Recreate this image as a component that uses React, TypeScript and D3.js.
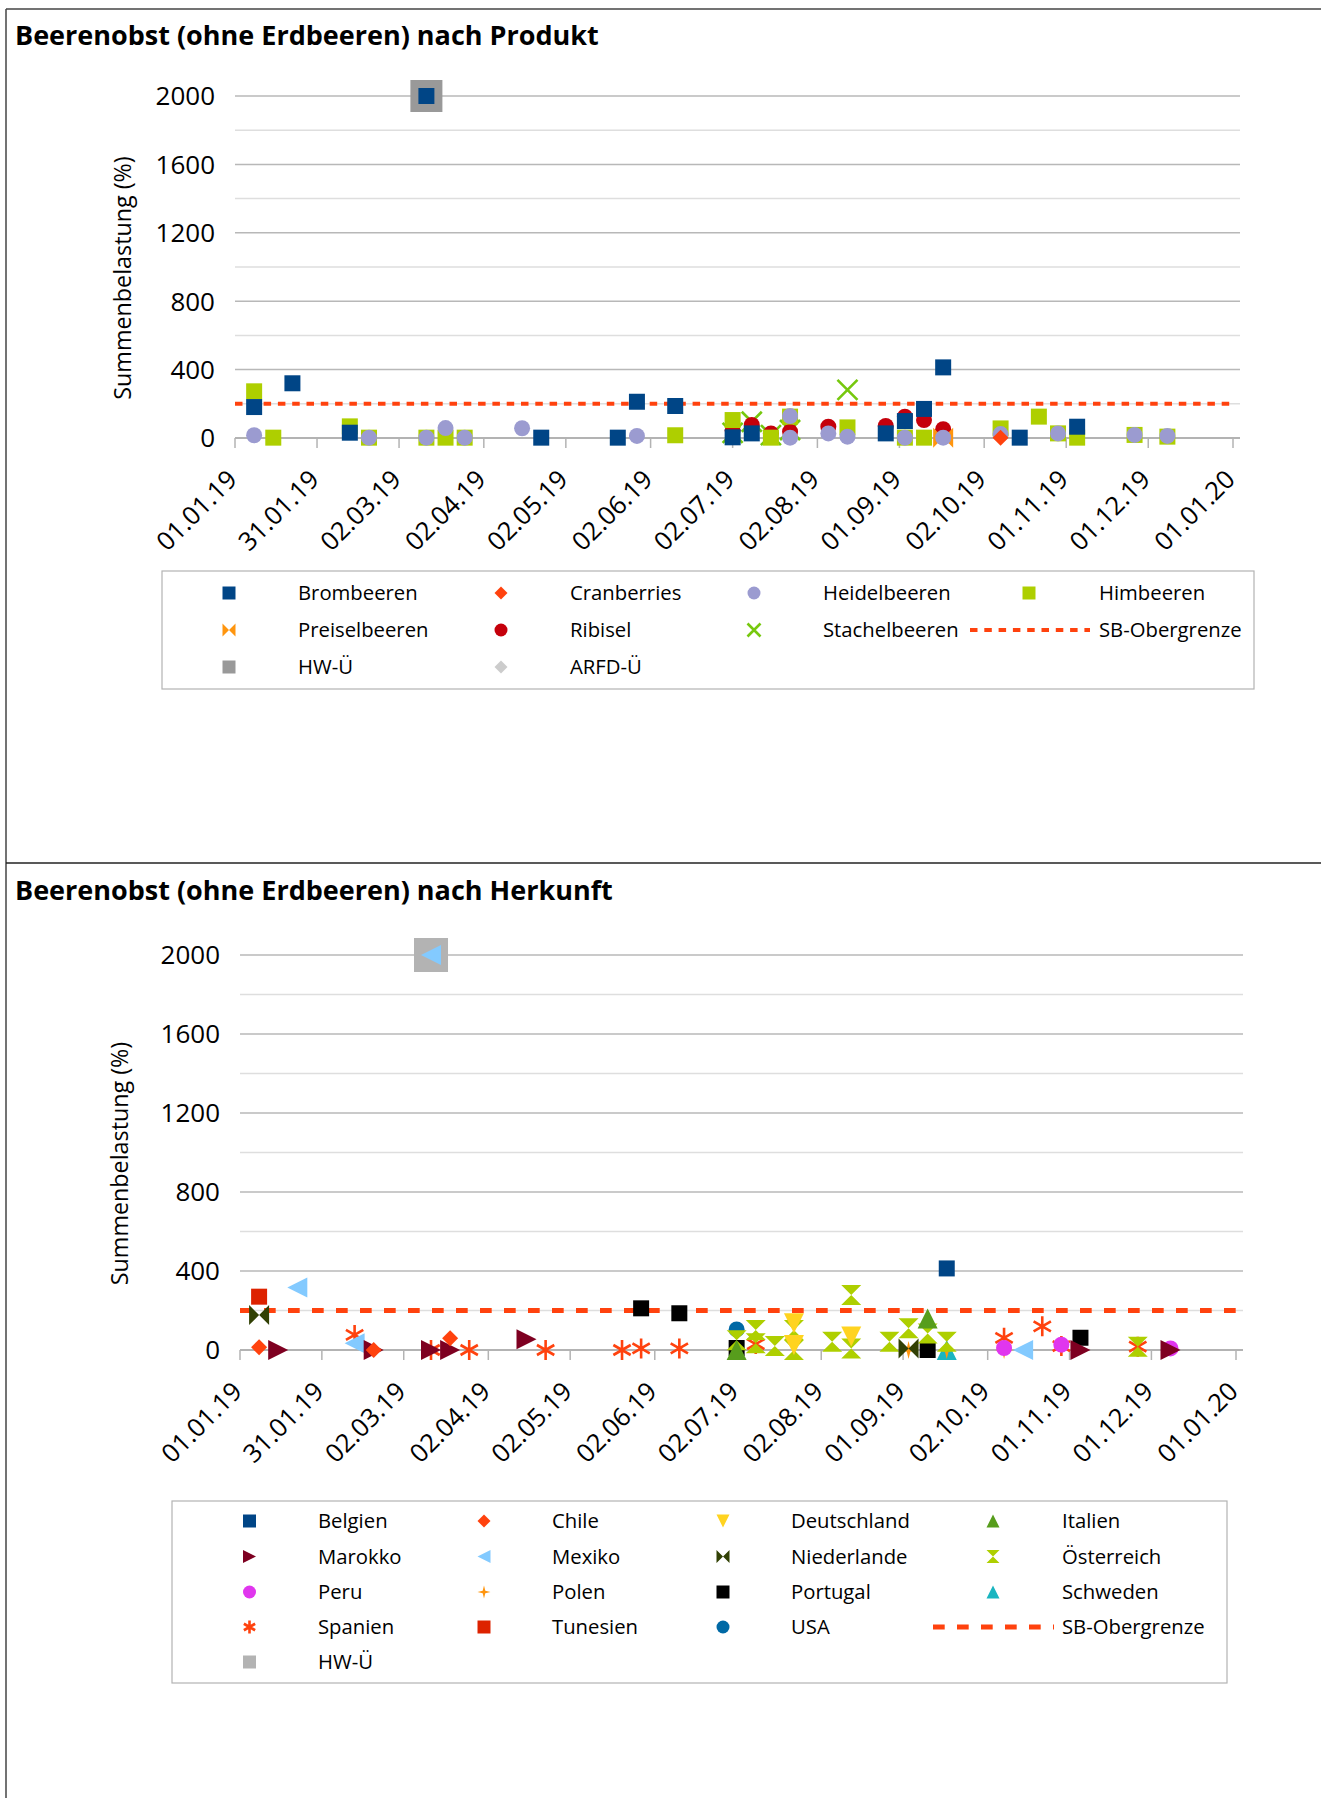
import React from "react";
import * as d3 from "d3";

const parseDate = d3.timeParse("%d.%m.%y");

// x axis tick labels (both charts)
const dateTicks = [
  "01.01.19", "31.01.19", "02.03.19", "02.04.19", "02.05.19", "02.06.19", "02.07.19",
  "02.08.19", "01.09.19", "02.10.19", "01.11.19", "01.12.19", "01.01.20",
];
const yTickValues = [0, 400, 800, 1200, 1600, 2000];
const yMax = 2000;
const sbObergrenze = 200;

type Pt = [string, number];

// ---------- Chart 1: nach Produkt ----------
const brombeeren: Pt[] = [
  ["08.01.19", 181], ["22.01.19", 320], ["12.02.19", 31], ["12.03.19", 2000], ["23.04.19", 2],
  ["21.05.19", 2], ["28.05.19", 212], ["11.06.19", 187], ["02.07.19", 4], ["09.07.19", 27],
  ["27.08.19", 27], ["03.09.19", 99], ["10.09.19", 170], ["17.09.19", 413], ["15.10.19", 2],
  ["05.11.19", 66],
];
const cranberries: Pt[] = [["08.10.19", 2]];
const heidelbeeren: Pt[] = [
  ["08.01.19", 16], ["19.02.19", 2], ["12.03.19", 2], ["19.03.19", 58], ["26.03.19", 2],
  ["16.04.19", 57], ["28.05.19", 12], ["23.07.19", 128], ["23.07.19", 2], ["06.08.19", 27],
  ["13.08.19", 8], ["03.09.19", 2], ["17.09.19", 2], ["08.10.19", 23], ["29.10.19", 27],
  ["26.11.19", 18], ["08.12.19", 12],
];
const himbeeren: Pt[] = [
  ["08.01.19", 273], ["15.01.19", 2], ["12.02.19", 68], ["19.02.19", 2], ["12.03.19", 2],
  ["19.03.19", 2], ["26.03.19", 2], ["11.06.19", 16], ["02.07.19", 105], ["16.07.19", 2],
  ["23.07.19", 125], ["13.08.19", 62], ["03.09.19", 2], ["10.09.19", 2], ["08.10.19", 56],
  ["22.10.19", 125], ["29.10.19", 27], ["05.11.19", 2], ["26.11.19", 18], ["08.12.19", 8],
];
const preiselbeeren: Pt[] = [["17.09.19", 2]];
const ribisel: Pt[] = [
  ["02.07.19", 45], ["09.07.19", 76], ["16.07.19", 27], ["23.07.19", 37], ["06.08.19", 66],
  ["27.08.19", 70], ["03.09.19", 125], ["10.09.19", 105], ["17.09.19", 51],
];
const stachelbeeren: Pt[] = [
  ["02.07.19", 30], ["09.07.19", 95], ["16.07.19", 17], ["23.07.19", 47], ["13.08.19", 281],
];
const hwUeProdukt: Pt[] = [["12.03.19", 2000]];
const arfdUe: Pt[] = [];
const sbLine: Pt[] = [["01.01.19", sbObergrenze], ["01.01.20", sbObergrenze]];

// ---------- Chart 2: nach Herkunft ----------
const belgien: Pt[] = [["17.09.19", 413]];
const chile: Pt[] = [["08.01.19", 14], ["19.02.19", 0], ["19.03.19", 59]];
const deutschland: Pt[] = [["23.07.19", 135], ["23.07.19", 25], ["13.08.19", 68]];
const italien: Pt[] = [["02.07.19", 0], ["10.09.19", 160]];
const marokko: Pt[] = [
  ["15.01.19", 0], ["19.02.19", 0], ["12.03.19", 0], ["19.03.19", 0], ["16.04.19", 54],
  ["05.11.19", 0], ["08.12.19", 0],
];
const mexiko: Pt[] = [["22.01.19", 316], ["12.02.19", 34], ["12.03.19", 2000], ["15.10.19", 0]];
const niederlande: Pt[] = [["08.01.19", 177], ["03.09.19", 8]];
const oesterreich: Pt[] = [
  ["02.07.19", 50], ["09.07.19", 101], ["09.07.19", 34], ["16.07.19", 20], ["23.07.19", 101],
  ["23.07.19", 0], ["06.08.19", 42], ["13.08.19", 278], ["13.08.19", 8], ["27.08.19", 42],
  ["03.09.19", 110], ["10.09.19", 84], ["17.09.19", 42], ["26.11.19", 17],
];
const peru: Pt[] = [["08.10.19", 10], ["29.10.19", 27], ["08.12.19", 8]];
const polen: Pt[] = [["03.09.19", 0], ["17.09.19", 0], ["08.10.19", 0]];
const portugal: Pt[] = [
  ["28.05.19", 211], ["11.06.19", 186], ["02.07.19", 10], ["10.09.19", 0], ["05.11.19", 62],
];
const schweden: Pt[] = [["17.09.19", 0]];
const spanien: Pt[] = [
  ["12.02.19", 76], ["12.03.19", 0], ["26.03.19", 0], ["23.04.19", 0], ["21.05.19", 0],
  ["28.05.19", 8], ["11.06.19", 8], ["09.07.19", 30], ["08.10.19", 62], ["22.10.19", 120],
  ["29.10.19", 20], ["26.11.19", 17],
];
const tunesien: Pt[] = [["08.01.19", 270]];
const usa: Pt[] = [["02.07.19", 104]];
const hwUeHerkunft: Pt[] = [["12.03.19", 2000]];

type Series = { name: string; shape: string; color: string; data: Pt[]; size?: number };

const produktSeries: Series[] = [
  { name: "Brombeeren", shape: "square", color: "#004586", data: brombeeren },
  { name: "Cranberries", shape: "diamond", color: "#ff420e", data: cranberries },
  { name: "Heidelbeeren", shape: "circle", color: "#9b9bd0", data: heidelbeeren },
  { name: "Himbeeren", shape: "square", color: "#aecf00", data: himbeeren },
  { name: "Preiselbeeren", shape: "bowtieH", color: "#ff950e", data: preiselbeeren },
  { name: "Ribisel", shape: "circle", color: "#c5000b", data: ribisel },
  { name: "Stachelbeeren", shape: "x", color: "#76c80e", data: stachelbeeren },
  { name: "SB-Obergrenze", shape: "line", color: "#ff420e", data: sbLine },
  { name: "HW-Ü", shape: "square", color: "#999999", data: hwUeProdukt, size: 32 },
  { name: "ARFD-Ü", shape: "diamond", color: "#cccccc", data: arfdUe },
];

const herkunftSeries: Series[] = [
  { name: "Belgien", shape: "square", color: "#004586", data: belgien },
  { name: "Chile", shape: "diamond", color: "#ff420e", data: chile },
  { name: "Deutschland", shape: "triDown", color: "#ffd320", data: deutschland },
  { name: "Italien", shape: "triUp", color: "#579d1c", data: italien },
  { name: "Marokko", shape: "triRight", color: "#7e0021", data: marokko },
  { name: "Mexiko", shape: "triLeft", color: "#83caff", data: mexiko },
  { name: "Niederlande", shape: "bowtieH", color: "#314004", data: niederlande },
  { name: "Österreich", shape: "bowtieV", color: "#aecf00", data: oesterreich },
  { name: "Peru", shape: "circle", color: "#e036ee", data: peru },
  { name: "Polen", shape: "star4", color: "#ff950e", data: polen },
  { name: "Portugal", shape: "square", color: "#000000", data: portugal },
  { name: "Schweden", shape: "triUp", color: "#1ab5c0", data: schweden },
  { name: "Spanien", shape: "asterisk", color: "#ff420e", data: spanien },
  { name: "Tunesien", shape: "square", color: "#dd2200", data: tunesien },
  { name: "USA", shape: "circle", color: "#0069a5", data: usa },
  { name: "SB-Obergrenze", shape: "line", color: "#ff420e", data: sbLine },
  { name: "HW-Ü", shape: "square", color: "#b3b3b3", data: hwUeHerkunft, size: 34 },
];

const FONT = "'Open Sans', 'Noto Sans', sans-serif";

// default marker size per shape (px)
function defaultSize(shape: string) {
  if (shape === "square" || shape === "circle" || shape === "diamond") return 16;
  if (shape === "star4") return 18;
  return 20;
}

function symbolPath(shape: string, s: number) {
  const h = s / 2;
  switch (shape) {
    case "square":
      return `M${-h},${-h}H${h}V${h}H${-h}Z`;
    case "diamond":
      return `M0,${-h}L${h},0L0,${h}L${-h},0Z`;
    case "circle":
      return `M${-h},0A${h},${h} 0 1,0 ${h},0A${h},${h} 0 1,0 ${-h},0Z`;
    case "bowtieH":
      return `M${-h},${-h}L0,0L${-h},${h}Z M${h},${-h}L0,0L${h},${h}Z`;
    case "bowtieV":
      return `M${-h},${-h}L${h},${-h}L0,0Z M${-h},${h}L${h},${h}L0,0Z`;
    case "triUp":
      return `M0,${-h}L${h},${h}L${-h},${h}Z`;
    case "triDown":
      return `M${-h},${-h}L${h},${-h}L0,${h}Z`;
    case "triLeft":
      return `M${-h},0L${h},${-h}L${h},${h}Z`;
    case "triRight":
      return `M${-h},${-h}L${h},0L${-h},${h}Z`;
    case "star4": {
      const k = s / 10;
      return `M0,${-h}L${k},${-k}L${h},0L${k},${k}L0,${h}L${-k},${k}L${-h},0L${-k},${-k}Z`;
    }
    case "x":
      return `M${-h},${-h}L${h},${h}M${h},${-h}L${-h},${h}`;
    case "asterisk": {
      const c = h * Math.cos(Math.PI / 6);
      const sn = h * Math.sin(Math.PI / 6);
      return `M0,${-h}V${h}M${-c},${-sn}L${c},${sn}M${c},${-sn}L${-c},${sn}`;
    }
    default:
      return "";
  }
}

function Marker({ shape, color, size, x, y }: { shape: string; color: string; size: number; x: number; y: number }) {
  const stroked = shape === "x" || shape === "asterisk";
  return (
    <path
      d={symbolPath(shape, size)}
      transform={`translate(${x},${y})`}
      fill={stroked ? "none" : color}
      stroke={stroked ? color : "none"}
      strokeWidth={stroked ? 2.6 : 0}
    />
  );
}

type Layout = {
  frameY: number; titleY: number; title: string;
  plotLeft: number; plotRight: number; lastTickX: number; yZero: number; yTop: number;
  yTitleX: number; dash: string; dashW: number;
  legend: { x0: number; y0: number; x1: number; y1: number; rows: number[]; symX: number[]; textX: number[]; lineX: number[] };
};

function Chart({ layout, series }: { layout: Layout; series: Series[] }) {
  const L = layout;
  const x = d3.scaleTime()
    .domain([parseDate(dateTicks[0])!, parseDate(dateTicks[dateTicks.length - 1])!])
    .range([L.plotLeft, L.lastTickX]);
  const y = d3.scaleLinear().domain([0, yMax]).range([L.yZero, L.yTop]);
  const grid = d3.range(0, yMax + 1, 200);
  const line = d3.line<Pt>().x(d => x(parseDate(d[0])!)).y(d => y(d[1]));

  // later series are drawn first (first legend entry ends up on top)
  const drawOrder = [...series].reverse();

  return (
    <g>
      <text x={15} y={L.titleY} fontFamily={FONT} fontWeight={700} fontSize={27} fill="#000">{L.title}</text>

      {grid.map(v => (
        <line key={v} x1={L.plotLeft} x2={L.plotRight} y1={y(v)} y2={y(v)}
          stroke={v === 0 ? "#b3b3b3" : v % 400 === 0 ? "#b8b8b8" : "#dedede"} strokeWidth={v === 0 ? 2 : 1.5} />
      ))}
      {dateTicks.map(t => (
        <line key={t} x1={x(parseDate(t)!)} x2={x(parseDate(t)!)} y1={L.yZero} y2={L.yZero + 10} stroke="#b3b3b3" strokeWidth={1.5} />
      ))}

      {yTickValues.map(v => (
        <text key={v} x={L.plotLeft - 20} y={y(v)} dy="0.36em" textAnchor="end" fontFamily={FONT} fontSize={26} fill="#000">{v}</text>
      ))}
      {dateTicks.map(t => (
        <text key={t} transform={`translate(${x(parseDate(t)!) + 3.5},${L.yZero + 43}) rotate(-45)`}
          textAnchor="end" fontFamily={FONT} fontSize={25.5} fill="#000">{t}</text>
      ))}
      <text transform={`translate(${L.yTitleX},${(L.yZero + L.yTop) / 2 + 11}) rotate(-90)`} textAnchor="middle"
        dy="0.35em" fontFamily={FONT} fontSize={23.3} fill="#000">Summenbelastung (%)</text>

      {drawOrder.map(s => s.shape === "line" ? (
        <path key={s.name} d={line(s.data) || ""} fill="none" stroke={s.color} strokeWidth={L.dashW} strokeDasharray={L.dash} />
      ) : (
        <g key={s.name}>
          {s.data.map((d, i) => (
            <Marker key={i} shape={s.shape} color={s.color} size={s.size || defaultSize(s.shape)}
              x={x(parseDate(d[0])!)} y={y(d[1])} />
          ))}
        </g>
      ))}

      <rect x={L.legend.x0} y={L.legend.y0} width={L.legend.x1 - L.legend.x0} height={L.legend.y1 - L.legend.y0}
        fill="#fff" stroke="#b3b3b3" strokeWidth={1.2} />
      {series.map((s, i) => {
        const col = i % 4;
        const row = Math.floor(i / 4);
        const cy = L.legend.rows[row];
        return (
          <g key={s.name}>
            {s.shape === "line" ? (
              <line x1={L.legend.lineX[0]} x2={L.legend.lineX[1]} y1={cy} y2={cy} stroke={s.color}
                strokeWidth={L.dashW} strokeDasharray={L.dash} />
            ) : (
              <Marker shape={s.shape} color={s.color} size={13} x={L.legend.symX[col]} y={cy} />
            )}
            <text x={L.legend.textX[col]} y={cy} dy="0.35em" fontFamily={FONT} fontSize={20.3} fill="#000">{s.name}</text>
          </g>
        );
      })}
    </g>
  );
}

const layoutProdukt: Layout = {
  frameY: 9, titleY: 45, title: "Beerenobst (ohne Erdbeeren) nach Produkt",
  plotLeft: 235, plotRight: 1240, lastTickX: 1233, yZero: 438, yTop: 96,
  yTitleX: 123, dash: "7.5 6.8", dashW: 4,
  legend: { x0: 162, y0: 571, x1: 1254, y1: 689, rows: [593, 630, 667], symX: [229, 501, 754, 1029], textX: [298, 570, 823, 1099], lineX: [970, 1090] },
};

const layoutHerkunft: Layout = {
  frameY: 863, titleY: 900, title: "Beerenobst (ohne Erdbeeren) nach Herkunft",
  plotLeft: 240, plotRight: 1243, lastTickX: 1236, yZero: 1350, yTop: 955,
  yTitleX: 120, dash: "11.7 12.3", dashW: 5,
  legend: { x0: 172, y0: 1501, x1: 1227, y1: 1683, rows: [1521, 1556.5, 1592, 1627, 1662], symX: [249.5, 484, 723, 993], textX: [318, 552, 791, 1062], lineX: [933, 1054] },
};

export default function App() {
  return (
    <>
      <style>{`body{margin:0;background:#fff}`}</style>
      <svg width={1321} height={1798} style={{ display: "block", background: "#fff" }}>
        <line x1={6} x2={1321} y1={9} y2={9} stroke="#444" strokeWidth={1.5} />
        <line x1={6} x2={6} y1={9} y2={1798} stroke="#444" strokeWidth={1.5} />
        <line x1={6} x2={1321} y1={863} y2={863} stroke="#222" strokeWidth={1.5} />
        <Chart layout={layoutProdukt} series={produktSeries} />
        <Chart layout={layoutHerkunft} series={herkunftSeries} />
      </svg>
    </>
  );
}
